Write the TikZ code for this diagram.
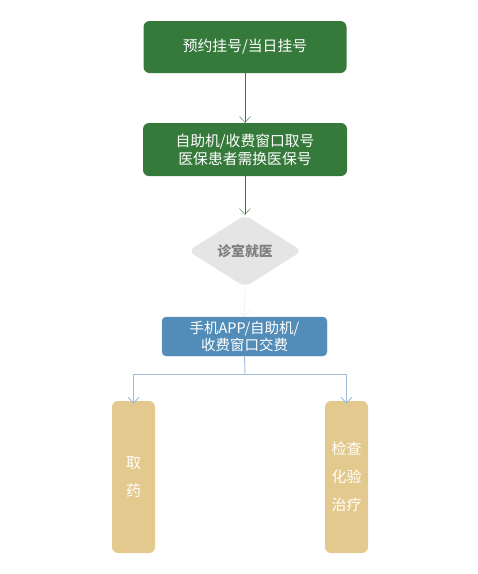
\documentclass[tikz,border=0pt]{standalone}
\usepackage{fontspec}
\setmainfont{Noto Sans CJK SC}
\usetikzlibrary{shapes.geometric,arrows.meta}
\definecolor{gbox}{HTML}{35793B}
\definecolor{bbox}{HTML}{528CB8}
\definecolor{tbox}{HTML}{E3C98D}
\definecolor{dgray}{HTML}{E5E5E5}
\definecolor{dtext}{HTML}{7F7F7F}
\definecolor{lgray}{HTML}{E6E6E6}
\definecolor{lblue}{HTML}{A0BCD8}
\tikzset{
  gnode/.style={fill=gbox,rounded corners=6pt,text=white,font=\fontsize{14.8}{18}\selectfont,align=center,inner sep=0pt},
  bnode/.style={fill=bbox,draw=bbox!80!white,rounded corners=4pt,text=white,font=\fontsize{14.5}{17}\selectfont,align=center,inner sep=0pt},
  tnode/.style={fill=tbox,rounded corners=6pt,text=white,font=\fontsize{15}{28}\selectfont,align=center,inner sep=0pt},
  garrow/.style={draw=gbox,-{Straight Barb[length=6pt,width=11pt]}},
  larrow/.style={draw=lgray,-{Straight Barb[length=6pt,width=11pt]}},
  barrow/.style={draw=lblue,line width=0.9pt,-{Straight Barb[length=6pt,width=11pt]}},
}
\begin{document}
\begin{tikzpicture}[x=1pt,y=-1pt]
\useasboundingbox (0,0) rectangle (478,574);
\node[gnode,minimum width=203pt,minimum height=52pt] (a) at (245,47) {预约挂号/当日挂号};
\node[gnode,minimum width=204pt,minimum height=53pt] (b) at (245,149.5) {自助机/收费窗口取号\\医保患者需换医保号};
\node[diamond,fill=dgray,rounded corners=7pt,minimum width=114pt,minimum height=72pt,inner sep=0pt,aspect=1.6,text=dtext,font=\bfseries\fontsize{13.8}{16}\selectfont] (c) at (245,251) {诊室就医};
\node[bnode,minimum width=165pt,minimum height=39pt] (d) at (244.5,336.5) {手机APP/自助机/\\收费窗口交费};
\node[tnode,minimum width=43pt,minimum height=152pt] (e) at (133.5,477) {取\\药};
\node[tnode,minimum width=43pt,minimum height=152pt] (f) at (346.5,477) {检查\\化验\\治疗};
\coordinate (j) at (245,374);
\draw[garrow] (a.south) -- (b.north);
\draw[garrow] (b.south) -- (c.north);
\draw[larrow] (c.south) -- (d.north);
\draw[lblue,line width=0.9pt] (d.south) -- (j);
\draw[barrow] (j) -| ([yshift=-3pt]e.north);
\draw[barrow] (j) -| ([yshift=-3pt]f.north);
\end{tikzpicture}
\end{document}
